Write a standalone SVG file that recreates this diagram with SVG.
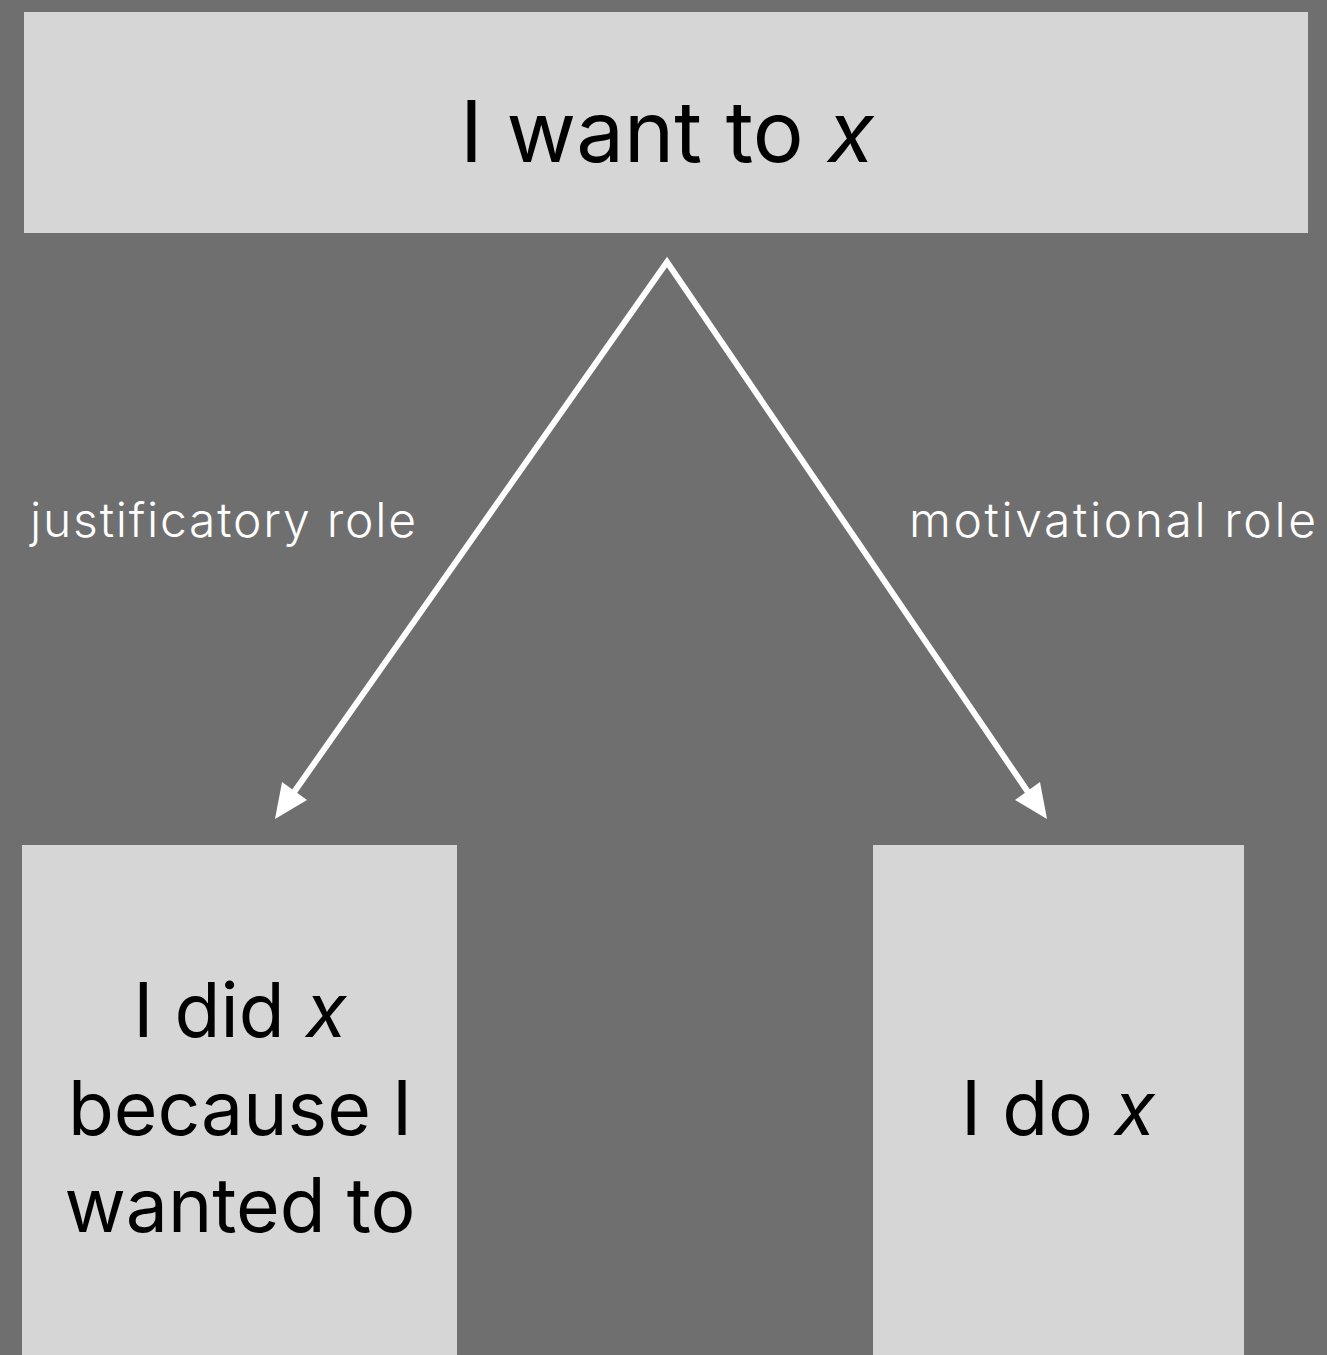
<svg xmlns="http://www.w3.org/2000/svg" width="1327" height="1355" viewBox="0 0 1327 1355">
<defs>
<style>
.box{fill:#d6d6d6}
.t{font-family:Inter,"Liberation Sans",sans-serif;fill:#000;text-anchor:middle}
.lbl{font-family:Inter,"Liberation Sans",sans-serif;fill:#fff;font-size:48px;font-weight:300}
.conn{stroke:#fff;stroke-width:6;fill:none}
</style>
</defs>
<rect width="1327" height="1355" fill="#6f6f6f"/>
<g id="top">
<rect class="box" x="24" y="12" width="1284" height="221"/>
<text class="t" x="667" y="162" font-size="85">I want to <tspan font-style="italic">x</tspan></text>
</g>
<g id="left">
<rect class="box" x="22" y="845" width="435" height="510"/>
<text class="t" x="240" y="1037" font-size="75">I did <tspan font-style="italic">x</tspan></text>
<text class="t" x="240" y="1135" font-size="75">because I</text>
<text class="t" x="240" y="1232" font-size="75">wanted to</text>
</g>
<g id="right">
<rect class="box" x="873" y="845" width="371" height="510"/>
<text class="t" x="1058" y="1135" font-size="75">I do <tspan font-style="italic">x</tspan></text>
</g>
<g id="connectors">
<polyline class="conn" points="292,795 667,262 1030,795"/>
<polygon points="275,819 282,782 307,800" fill="#fff"/>
<polygon points="1047,819 1040,782 1015,800" fill="#fff"/>
<text class="lbl" x="30" y="537" textLength="386" lengthAdjust="spacing">justificatory role</text>
<text class="lbl" x="909" y="537" textLength="407" lengthAdjust="spacing">motivational role</text>
</g>
</svg>
